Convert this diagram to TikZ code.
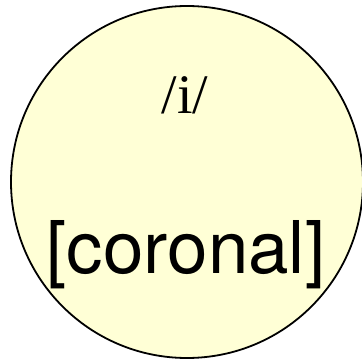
\documentclass[tikz,border=0pt]{standalone}
\usepackage{fontspec}
\setmainfont{Liberation Serif}
\newfontfamily\helv{TeX Gyre Heros}
\definecolor{cream}{RGB}{255,255,214}
\begin{document}
\begin{tikzpicture}[x=1bp,y=1bp,
  blob/.style={circle, draw=black, fill=cream, line width=1.8bp, inner sep=0pt, minimum size=352bp},
  phon/.style={anchor=base, inner sep=0pt, font=\fontsize{56}{60}\selectfont},
  feat/.style={anchor=base, inner sep=0pt, font=\helv\fontsize{73}{80}\selectfont}]
\useasboundingbox (0,0) rectangle (362,361);
\node[blob] (c) at (187,179) {};
\node[phon] (i) at (185,248) {/i/};
\node[feat] (f) at (186,88) {[coronal]};
\end{tikzpicture}
\end{document}
